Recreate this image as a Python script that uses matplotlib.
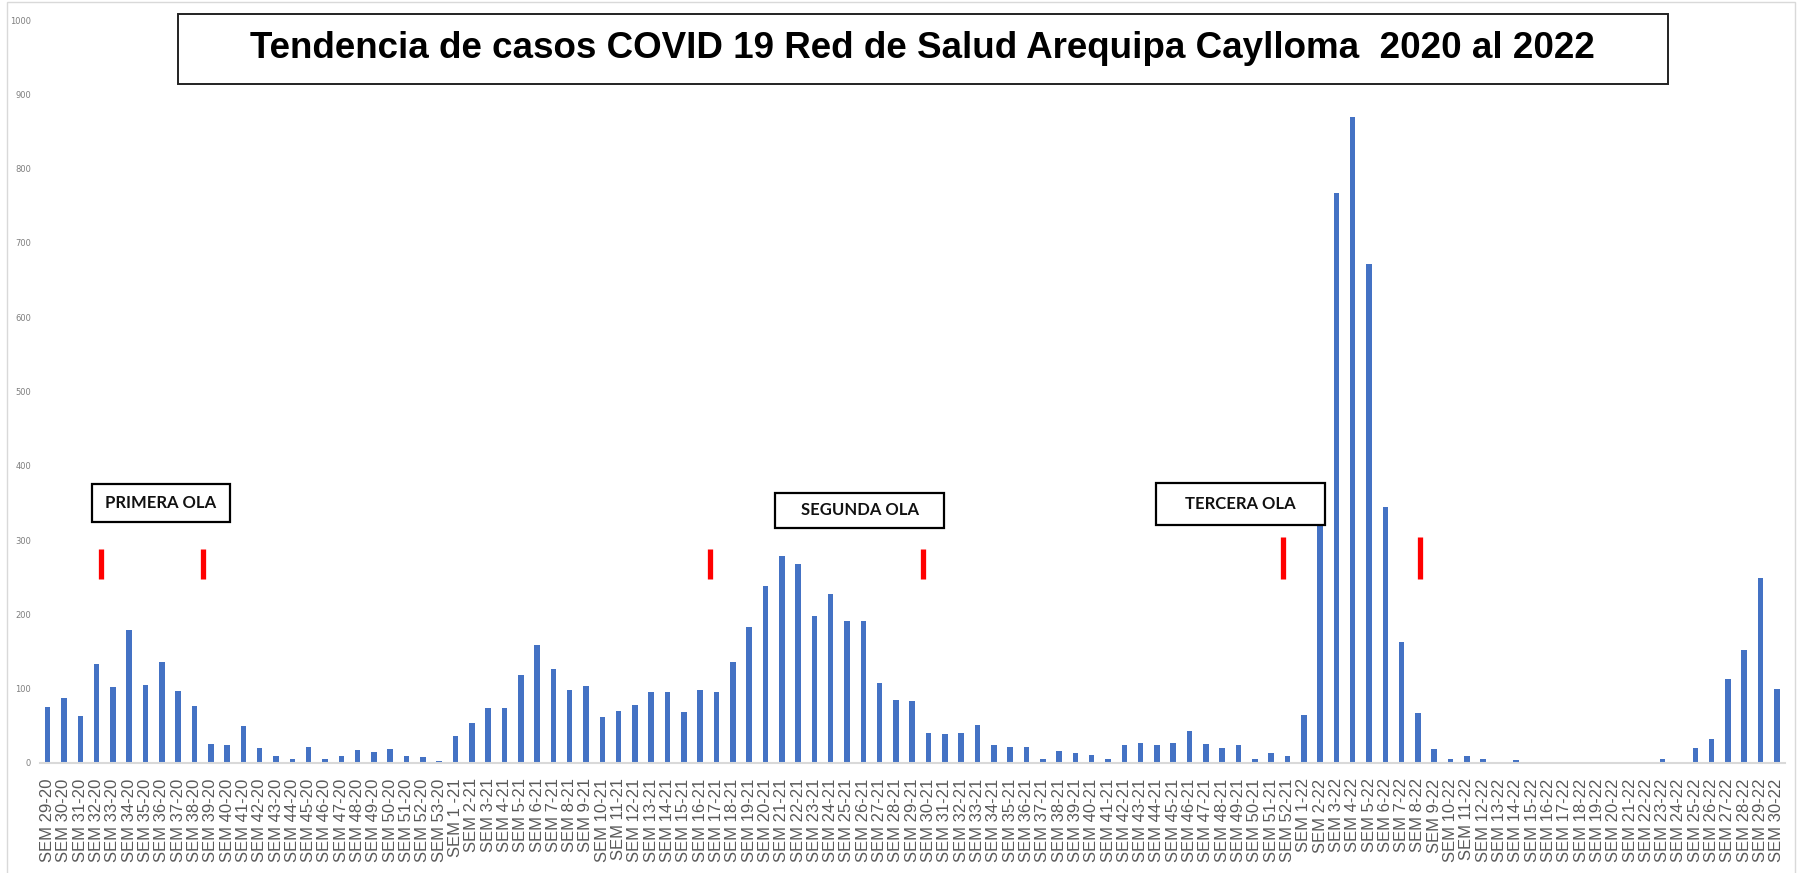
import matplotlib
matplotlib.use("Agg")
import matplotlib.pyplot as plt
from matplotlib.patches import Rectangle

# Casos semanales por año epidemiológico
SEMANAS_2020 = list(range(29, 54))
SEMANAS_2021 = list(range(1, 53))
SEMANAS_2022 = list(range(1, 31))

CASOS_2020 = [76, 87, 63, 133, 102, 179, 105, 136, 97, 77, 26, 24, 50, 20, 10,
              6, 22, 5, 9, 18, 15, 19, 10, 8, 3]
CASOS_2021 = [37, 54, 74, 74, 119, 159, 127, 98, 104, 62,
              70, 78, 95, 96, 68, 98, 95, 136, 183, 238,
              278, 268, 198, 228, 191, 191, 108, 85, 84, 41,
              39, 41, 51, 24, 22, 22, 6, 16, 13, 11,
              6, 24, 27, 24, 27, 43, 26, 20, 24, 6, 13, 9]
CASOS_2022 = [64, 330, 767, 870, 672, 345, 163, 67, 19, 6,
              9, 6, 0, 4, 0, 0, 0, 0, 0, 0,
              0, 1, 6, 1, 20, 32, 113, 152, 249, 99]

ETIQUETAS = ([f"SEM {s}-20" for s in SEMANAS_2020]
             + [("SEM 1 -21" if s == 1 else f"SEM {s}-21") for s in SEMANAS_2021]
             + [f"SEM {s}-22" for s in SEMANAS_2022])
CASOS = CASOS_2020 + CASOS_2021 + CASOS_2022

# Marcas rojas de inicio/fin de cada ola (posición en categorías, rango en y)
MARCAS_X = [3.27, 9.5, 40.6, 53.65, 75.7, 84.1]
MARCAS_Y = [(247, 288), (247, 288), (247, 288), (247, 288), (247, 304), (247, 304)]

# Recuadros de las olas: (texto, x0, x1, y0, y1)
OLAS = [("PRIMERA OLA", 2.7, 11.2, 324, 375),
        ("SEGUNDA OLA", 44.6, 54.95, 316, 364),
        ("TERCERA OLA", 67.95, 78.3, 320, 377)]

TITULO = "Tendencia de casos COVID 19 Red de Salud Arequipa Caylloma  2020 al 2022"

AZUL = "#4472c4"
GRIS_TEXTO = "#595959"
GRIS_EJE = "#d9d9d9"

W, H = 1797, 873
fig = plt.figure(figsize=(W / 100, H / 100), dpi=100, facecolor="white")
ax = fig.add_axes([39.5 / W, 110 / H, (1785 - 39.5) / W, 743 / H])

x = list(range(len(CASOS)))
ax.bar(x, CASOS, width=0.34, color=AZUL, zorder=2)

ax.set_xlim(-0.5, len(CASOS) - 0.5)
ax.set_ylim(0, 1000)
ax.set_yticks(range(0, 1001, 100))
ax.tick_params(axis="y", length=0, pad=6, labelsize=6, labelcolor="#7f7f7f")
ax.set_xticks(x)
ax.set_xticklabels(ETIQUETAS, rotation=90, fontsize=12, color=GRIS_TEXTO,
                   family="Liberation Sans", va="top")
ax.tick_params(axis="x", length=0, pad=11)
for lado in ("top", "right", "left"):
    ax.spines[lado].set_visible(False)
ax.spines["bottom"].set_color(GRIS_EJE)
ax.spines["bottom"].set_linewidth(1.5)

for xm, (y0, y1) in zip(MARCAS_X, MARCAS_Y):
    ax.plot([xm, xm], [y0, y1], color="#ff0000", linewidth=3.8,
            solid_capstyle="butt", zorder=3)

for texto, x0, x1, y0, y1 in OLAS:
    ax.add_patch(Rectangle((x0, y0), x1 - x0, y1 - y0, facecolor="white",
                           edgecolor="black", linewidth=1.6, zorder=4))
    ax.text((x0 + x1) / 2, (y0 + y1) / 2, texto, ha="center", va="center",
            fontsize=12, fontweight="bold", family="Lato", color="#111111",
            zorder=5)

# Recuadro del título
fig.patches.append(Rectangle((177.6 / W, 1 - 84 / H), (1667.5 - 177.6) / W, 70 / H,
                             transform=fig.transFigure, facecolor="white",
                             edgecolor="#222222", linewidth=1.4, zorder=5))
fig.text(922.5 / W, 1 - 49 / H, TITULO, ha="center", va="center", fontsize=26.5,
         fontweight="bold", family="Liberation Sans", color="black", zorder=6)

# Marco gris del área del gráfico
fig.patches.append(Rectangle((7 / W, -0.01), (1795 - 7) / W, 1 - 2 / H + 0.01,
                             transform=fig.transFigure, facecolor="none",
                             edgecolor=GRIS_EJE, linewidth=1.0, zorder=0))

fig.savefig("out.png", dpi=100, facecolor="white")
